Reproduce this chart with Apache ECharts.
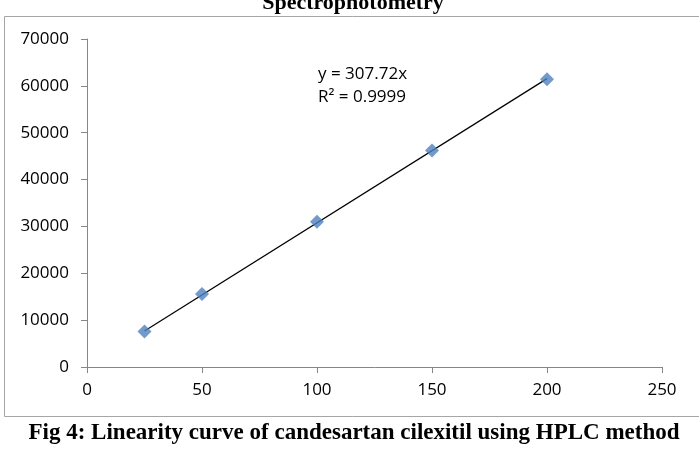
<!DOCTYPE html>
<html><head><meta charset="utf-8">
<script src="https://cdn.jsdelivr.net/npm/echarts@6/dist/echarts.min.js"></script>
<style>html,body{margin:0;padding:0;background:#fff}#c{width:699px;height:464px}</style>
</head><body><div id="c"></div>
<script>
var concentrations = [25, 50, 100, 150, 200];
var areas = [7600, 15600, 31000, 46200, 61400];
var slope = 307.72;
var xTicks = [0, 50, 100, 150, 200, 250];
var yTicks = [0, 10000, 20000, 30000, 40000, 50000, 60000, 70000];
var titleText = 'Spectrophotometry';
var captionText = 'Fig 4: Linearity curve of candesartan cilexitil using HPLC method';
var eqLine1 = 'y = 307.72x';
var eqLine2 = 'R² = 0.9999';

var chart = echarts.init(document.getElementById('c'), null, {renderer: 'canvas'});
var pts = concentrations.map(function (x, i) { return [x, areas[i]]; });
var trend = [[concentrations[0], slope * concentrations[0]], [concentrations[concentrations.length - 1], slope * concentrations[concentrations.length - 1]]];
var lab = {fontFamily: '"Open Sans", "Liberation Sans", sans-serif', fontSize: 17, color: '#000'};
chart.setOption({
  animation: false,
  backgroundColor: '#fff',
  grid: {left: 87, right: 37, top: 39, bottom: 97, containLabel: false},
  xAxis: {
    type: 'value', min: xTicks[0], max: xTicks[xTicks.length - 1], interval: 50,
    axisLine: {show: true, lineStyle: {color: '#868686', width: 1}},
    axisTick: {show: true, length: 6, lineStyle: {color: '#868686'}},
    splitLine: {show: false},
    axisLabel: Object.assign({margin: 15, formatter: function (v) { return String(v); }}, lab)
  },
  yAxis: {
    type: 'value', min: yTicks[0], max: yTicks[yTicks.length - 1], interval: 10000,
    axisLine: {show: true, lineStyle: {color: '#868686', width: 1}},
    axisTick: {show: true, length: 6, lineStyle: {color: '#868686'}},
    splitLine: {show: false},
    axisLabel: Object.assign({margin: 18, formatter: function (v) { return String(v); }}, lab)
  },
  series: [
    {type: 'line', data: trend, symbol: 'none', lineStyle: {color: '#000', width: 1.2}, z: 2, silent: true},
    {type: 'scatter', data: pts, symbol: 'diamond', symbolSize: [14, 14], itemStyle: {color: '#4F81BD'}, z: 3}
  ],
  graphic: [
    {type: 'rect', shape: {x: 4.5, y: 16.5, width: 720, height: 400}, style: {fill: 'none', stroke: '#a6a6a6', lineWidth: 1}, z: -1},
    {type: 'text', x: 353, y: 3, style: {text: titleText, textAlign: 'center', textVerticalAlign: 'middle', font: 'bold 22px "Liberation Serif", "Times New Roman", serif', fill: '#000'}},
    {type: 'text', x: 318, y: 74, style: {text: eqLine1, textAlign: 'left', textVerticalAlign: 'middle', font: '17px "Open Sans", "Liberation Sans", sans-serif', fill: '#000'}},
    {type: 'text', x: 318, y: 97, style: {text: eqLine2, textAlign: 'left', textVerticalAlign: 'middle', font: '17px "Open Sans", "Liberation Sans", sans-serif', fill: '#000'}},
    {type: 'text', x: 354, y: 433, style: {text: captionText, textAlign: 'center', textVerticalAlign: 'middle', font: 'bold 23px "Liberation Serif", "Times New Roman", serif', fill: '#000'}}
  ]
});
</script></body></html>
